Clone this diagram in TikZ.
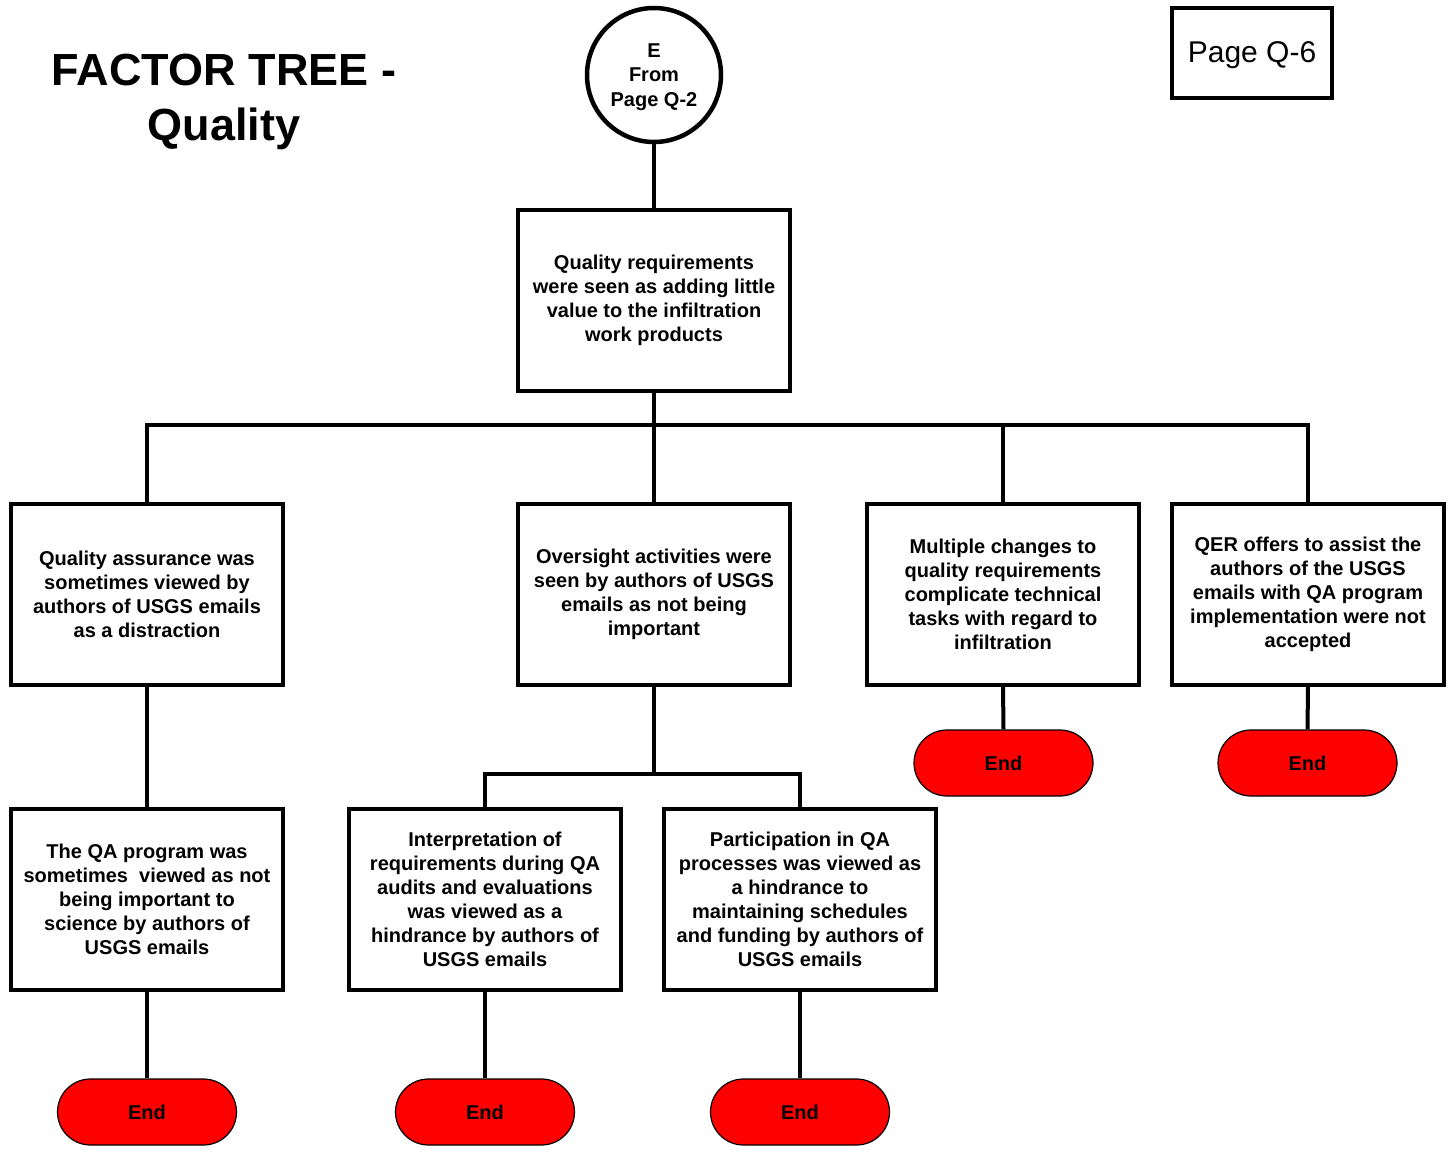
\documentclass[tikz,border=0pt]{standalone}
\usepackage{fontspec}
\setmainfont{Liberation Sans}
\begin{document}
\begin{tikzpicture}[x=1pt,y=-1pt,
  box/.style={draw,line width=4pt,minimum width=272pt,minimum height=181pt,inner sep=0pt,
    align=center,font=\fontsize{20}{24}\selectfont\bfseries},
  endnode/.style={draw,line width=1.2pt,fill=red,minimum width=179pt,minimum height=66pt,
    rounded corners=33pt,inner sep=0pt,font=\fontsize{20}{24}\selectfont\bfseries},
  conn/.style={line width=4pt},
  txt/.style={inner sep=0pt,align=center}]
\useasboundingbox (0,0) rectangle (1451,1150);
\node[txt,font=\fontsize{45}{55}\selectfont\bfseries] (title) at (224,102) {FACTOR TREE -\\Quality};
\node[draw,line width=4pt,minimum width=160pt,minimum height=90pt] (page) at (1252,53) {};
\node[txt,font=\fontsize{30}{36}\selectfont] (pagetext) at (1252,55) {Page Q-6};
\node[draw,circle,line width=4.5pt,minimum size=134pt,inner sep=0pt] (conn) at (654,75) {};
\node[txt,font=\fontsize{20}{24.5}\selectfont\bfseries] (conntext) at (654,77) {E\\From\\Page Q-2};
\node[box] (top) at (654,300.5) {Quality requirements\\were seen as adding little\\value to the infiltration\\work products};
\node[box] (b1) at (147,594) {Quality assurance was\\sometimes viewed by\\authors of USGS emails\\as a distraction};
\node[box] (b2) at (654,594) {Oversight activities were\\seen by authors of USGS\\emails as not being\\important};
\node[box] (b3) at (1003,594) {Multiple changes to\\quality requirements\\complicate technical\\tasks with regard to\\infiltration};
\node[box] (b4) at (1308,594) {QER offers to assist the\\authors of the USGS\\emails with QA program\\implementation were not\\accepted};
\node[box] (b5) at (147,899) {The QA program was\\sometimes\ \ viewed as not\\being important to\\science by authors of\\USGS emails};
\node[box] (b6) at (485,899) {Interpretation of\\requirements during QA\\audits and evaluations\\was viewed as a\\hindrance by authors of\\USGS emails};
\node[box] (b7) at (800,899) {Participation in QA\\processes was viewed as\\a hindrance to\\maintaining schedules\\and funding by authors of\\USGS emails};
\node[endnode] (e3) at (1003.5,763) {End};
\node[endnode] (e4) at (1307.5,763) {End};
\node[endnode] (e5) at (147,1112) {End};
\node[endnode] (e6) at (485,1112) {End};
\node[endnode] (e7) at (800,1112) {End};
\coordinate (busA) at (0,425);
\coordinate (busB) at (0,774);
\draw[conn] (conn.south) -- (top.north);
\draw[conn] (top.south) -- (top.south |- busA) -| (b1.north);
\draw[conn] (top.south |- busA) -| (b4.north);
\draw[conn] (top.south) -- (b2.north);
\draw[conn] (b3.north |- busA) -- (b3.north);
\draw[conn] (b1.south) -- (b5.north);
\draw[conn] (b2.south) -- (b2.south |- busB) -| (b6.north);
\draw[conn] (b2.south |- busB) -| (b7.north);
\draw[conn] (b3.south) -- (e3.north);
\draw[conn] (b4.south) -- (e4.north);
\draw[conn] (b5.south) -- (e5.north);
\draw[conn] (b6.south) -- (e6.north);
\draw[conn] (b7.south) -- (e7.north);
\end{tikzpicture}
\end{document}
